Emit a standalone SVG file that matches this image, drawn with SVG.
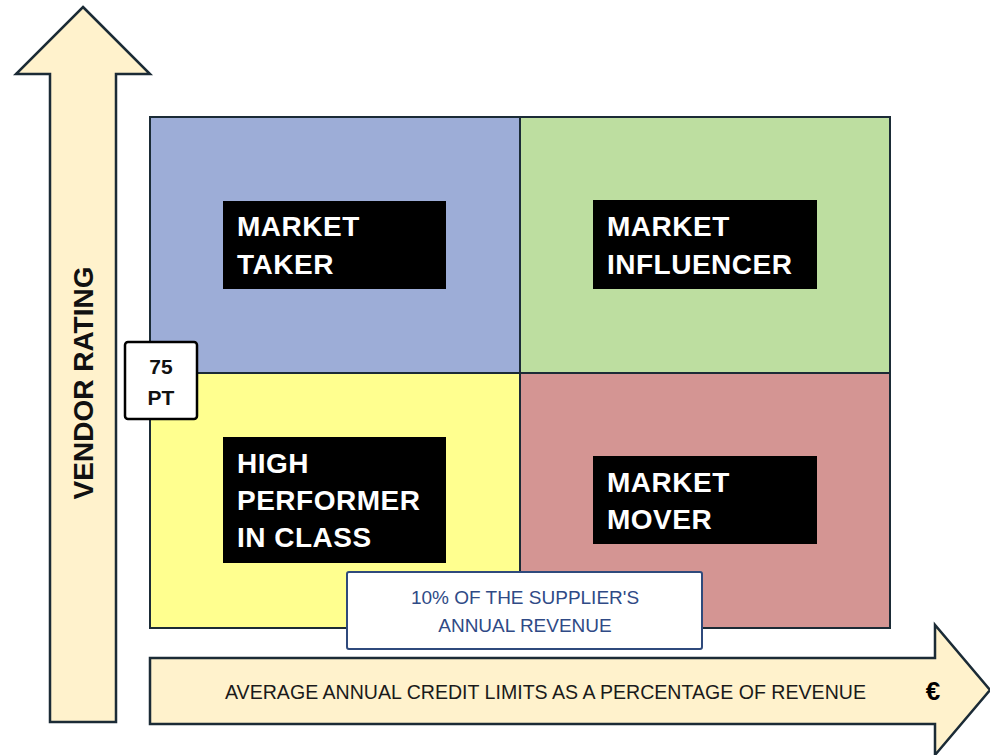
<svg xmlns="http://www.w3.org/2000/svg" width="990" height="755" viewBox="0 0 990 755">
<style>
.arrow{fill:#fff2cc;stroke:#1b2b36;stroke-width:2.5;stroke-linejoin:miter}
.quad{stroke:#1b2b36;stroke-width:2}
.lbl{fill:#000}
.lt{font-family:"Liberation Sans",Arial,sans-serif;font-weight:bold;font-size:28px;fill:#fff;letter-spacing:0.5px}
.pt{font-family:"Liberation Sans",Arial,sans-serif;font-weight:bold;font-size:21px;fill:#111;text-anchor:middle}
.note{font-family:"Liberation Sans",Arial,sans-serif;font-size:19px;fill:#2f4a86;text-anchor:middle}
.axis{font-family:"Liberation Sans",Arial,sans-serif;font-size:21px;fill:#1a1a1a}
</style>
<rect width="990" height="755" fill="#fff"/>
<g id="y-axis">
<polygon class="arrow" points="83,7 150,74 116,74 116,722 50,722 50,74 16,74"/>
<text class="lt" style="fill:#111;text-anchor:middle;letter-spacing:0" transform="translate(93,383) rotate(-90)">VENDOR RATING</text>
</g>
<g id="x-axis">
<polygon class="arrow" points="150,658 935,658 935,625 990,690 935,755 935,724 150,724"/>
<text class="axis" x="225" y="699" textLength="641" lengthAdjust="spacingAndGlyphs">AVERAGE ANNUAL CREDIT LIMITS AS A PERCENTAGE OF REVENUE</text>
<text x="933" y="700" style="font-family:'Liberation Sans',Arial,sans-serif;font-weight:bold;font-size:26px;fill:#000;text-anchor:middle">€</text>
</g>
<g id="quadrants">
<rect id="q-taker" class="quad" x="150" y="117" width="370" height="256" fill="#9dadd7"/>
<rect id="q-influencer" class="quad" x="520" y="117" width="370" height="256" fill="#bddea0"/>
<rect id="q-performer" class="quad" x="150" y="373" width="370" height="255" fill="#ffff8f"/>
<rect id="q-mover" class="quad" x="520" y="373" width="370" height="255" fill="#d49593"/>
</g>
<g id="market-taker">
<rect class="lbl" x="223" y="201" width="223" height="88"/>
<text class="lt" x="237" y="236">MARKET</text>
<text class="lt" x="237" y="274">TAKER</text>
</g>
<g id="market-influencer">
<rect class="lbl" x="593" y="200" width="224" height="89"/>
<text class="lt" x="607" y="236">MARKET</text>
<text class="lt" x="607" y="274">INFLUENCER</text>
</g>
<g id="high-performer">
<rect class="lbl" x="223" y="437" width="223" height="126"/>
<text class="lt" x="237" y="473">HIGH</text>
<text class="lt" x="237" y="510">PERFORMER</text>
<text class="lt" x="237" y="547">IN CLASS</text>
</g>
<g id="market-mover">
<rect class="lbl" x="593" y="456" width="224" height="88"/>
<text class="lt" x="607" y="492">MARKET</text>
<text class="lt" x="607" y="529">MOVER</text>
</g>
<g id="threshold-75pt">
<rect x="125" y="342" width="72" height="77" rx="3" fill="#fff" stroke="#000" stroke-width="2.5"/>
<text class="pt" x="161" y="374">75</text>
<text class="pt" x="161" y="405">PT</text>
</g>
<g id="threshold-10pct">
<rect x="347" y="572" width="355" height="77" rx="2" fill="#fff" stroke="#2f4a7c" stroke-width="2"/>
<text class="note" x="525" y="604">10% OF THE SUPPLIER'S</text>
<text class="note" x="525" y="632">ANNUAL REVENUE</text>
</g>
<g id="connectors"></g>
</svg>
